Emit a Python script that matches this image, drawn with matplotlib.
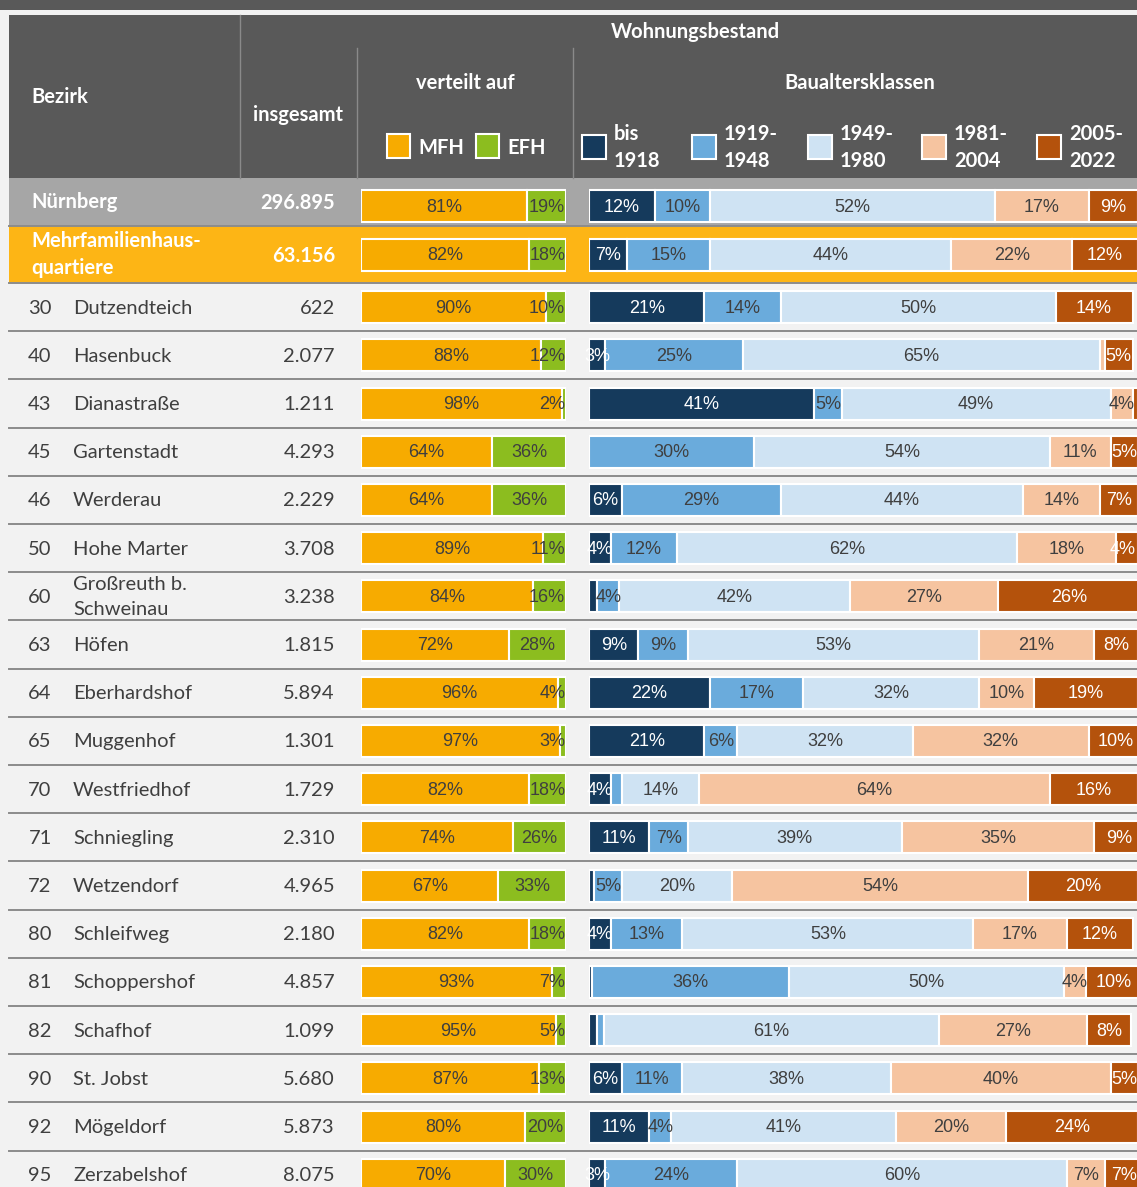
import matplotlib.pyplot as plt
from matplotlib.patches import Rectangle

# Wohnungsbestand nach Bezirk (Mehrfamilienhausquartiere)
bezirk_nr = ["", "", "30", "40", "43", "45", "46", "50", "60", "63", "64",
             "65", "70", "71", "72", "80", "81", "82", "90", "92", "95"]
bezirk_name = ["Nürnberg", "Mehrfamilienhaus-\nquartiere", "Dutzendteich", "Hasenbuck",
               "Dianastraße", "Gartenstadt", "Werderau", "Hohe Marter",
               "Großreuth b.\nSchweinau", "Höfen", "Eberhardshof", "Muggenhof",
               "Westfriedhof", "Schniegling", "Wetzendorf", "Schleifweg",
               "Schoppershof", "Schafhof", "St. Jobst", "Mögeldorf", "Zerzabelshof"]
insgesamt = ["296.895", "63.156", "622", "2.077", "1.211", "4.293", "2.229", "3.708",
             "3.238", "1.815", "5.894", "1.301", "1.729", "2.310", "4.965", "2.180",
             "4.857", "1.099", "5.680", "5.873", "8.075"]

mfh = [81, 82, 90, 88, 98, 64, 64, 89, 84, 72, 96, 97, 82, 74, 67, 82, 93, 95, 87, 80, 70]
efh = [19, 18, 10, 12, 2, 36, 36, 11, 16, 28, 4, 3, 18, 26, 33, 18, 7, 5, 13, 20, 30]

bis_1918 = [12, 7, 21, 3, 41, 0, 6, 4, 1.5, 9, 22, 21, 4, 11, 1, 4, 0.5, 1.5, 6, 11, 3]
bj_1919_1948 = [10, 15, 14, 25, 5, 30, 29, 12, 4, 9, 17, 6, 2, 7, 5, 13, 36, 1.2, 11, 4, 24]
bj_1949_1980 = [52, 44, 50, 65, 49, 54, 44, 62, 42, 53, 32, 32, 14, 39, 20, 53, 50, 61, 38, 41, 60]
bj_1981_2004 = [17, 22, 0, 1, 4, 11, 14, 18, 27, 21, 10, 32, 64, 35, 54, 17, 4, 27, 40, 20, 7]
bj_2005_2022 = [9, 12, 14, 5, 1, 5, 7, 4, 26, 8, 19, 10, 16, 9, 20, 12, 10, 8, 5, 24, 7]

klassen_labels = [("bis", "1918"), ("1919-", "1948"), ("1949-", "1980"),
                  ("1981-", "2004"), ("2005-", "2022")]

# colours
HEAD = "#595959"
BG = "#f2f2f2"
GREY_ROW = "#a6a6a6"
ORANGE_ROW = "#fdb515"
LINE = "#8c8c8c"
TXT = "#3f3f3f"
C_MFH = "#f7ab00"
C_EFH = "#8cbd1f"
C_KL = ["#153a5c", "#6aabdc", "#cfe3f3", "#f6c4a0", "#b4520c"]
TXT_KL = ["white", TXT, TXT, TXT, "white"]

W, H = 1137, 1187
TABLE_FONT = ["Lato", "DejaVu Sans"]
BAR_FONT = ["Liberation Sans", "DejaVu Sans"]
FS = 14.5

fig = plt.figure(figsize=(W / 100, H / 100), dpi=100, facecolor=BG)
ax = fig.add_axes([0, 0, 1, 1])
ax.set_xlim(0, W)
ax.set_ylim(H, 0)
ax.axis("off")

# row geometry
row_top = [178, 226] + [283 + 48.2 * i for i in range(len(bezirk_nr) - 2)]
row_bot = [226, 283] + [283 + 48.2 * (i + 1) for i in range(len(bezirk_nr) - 2)]
row_mid = [(a + b) / 2 for a, b in zip(row_top, row_bot)]
bar_mid = [row_mid[0] + 4] + row_mid[1:]

# header block
ax.add_patch(Rectangle((0, 0), W, 10, color=HEAD, lw=0))
ax.add_patch(Rectangle((9, 15), W - 9, 163, color=HEAD, lw=0))
ax.plot([240, 240], [15, 178], color="#8a8a8a", lw=1)
ax.plot([357, 357], [48, 178], color="#8a8a8a", lw=1)
ax.plot([573, 573], [48, 178], color="#8a8a8a", lw=1)

hd = dict(color="white", fontweight="bold", fontsize=FS, family=TABLE_FONT)
ax.text(31, 97, "Bezirk", ha="left", va="center", **hd)
ax.text(298, 115, "insgesamt", ha="center", va="center", **hd)
ax.text(465, 83, "verteilt auf", ha="center", va="center", **hd)
ax.text(695, 32, "Wohnungsbestand", ha="center", va="center", **hd)
ax.text(860, 83, "Baualtersklassen", ha="center", va="center", **hd)

# legends in header
for x, col, lab in [(387, C_MFH, "MFH"), (476, C_EFH, "EFH")]:
    ax.add_patch(Rectangle((x, 134), 23, 24, facecolor=col, edgecolor="white", lw=1.5))
    ax.text(x + 31, 148, lab, ha="left", va="center", **hd)
for x, col, (l1, l2) in zip([582, 692, 808, 922, 1037], C_KL, klassen_labels):
    ax.add_patch(Rectangle((x, 135), 24, 24, facecolor=col, edgecolor="white", lw=1.5))
    ax.text(x + 32, 134, l1, ha="left", va="center", **hd)
    ax.text(x + 32, 161, l2, ha="left", va="center", **hd)

# row backgrounds, separators and text
for i, (top, bot, mid) in enumerate(zip(row_top, row_bot, row_mid)):
    if i == 0:
        face, tcol, weight = GREY_ROW, "white", "bold"
    elif i == 1:
        face, tcol, weight = ORANGE_ROW, "white", "bold"
    else:
        face, tcol, weight = BG, TXT, "normal"
    ax.add_patch(Rectangle((9, top), W - 9, bot - top, color=face, lw=0))
    ax.plot([9, W], [bot, bot], color=LINE, lw=1.4)
    if bezirk_nr[i]:
        ax.text(40, mid + 1, bezirk_nr[i], ha="center", va="center",
                color=tcol, fontsize=FS, family=TABLE_FONT)
        ax.text(73, mid + 1, bezirk_name[i], ha="left", va="center", color=tcol,
                fontsize=FS, family=TABLE_FONT, linespacing=1.55)
    else:
        ax.text(31, mid, bezirk_name[i], ha="left", va="center", color=tcol,
                fontsize=FS, fontweight=weight, family=TABLE_FONT, linespacing=1.45)
    ax.text(335, mid + 1, insgesamt[i], ha="right", va="center", color=tcol,
            fontsize=FS, fontweight=weight, family=TABLE_FONT)


def bar_axes(x0, x1):
    a = fig.add_axes([x0 / W, 0, (x1 - x0) / W, 1])
    a.set_xlim(0, 100)
    a.set_ylim(H, 0)
    a.axis("off")
    a.patch.set_visible(False)
    return a


def put_label(left, val, px_per_unit, min_val):
    # centred on its segment, but kept inside the right end of the bar
    if val < min_val:
        return None
    lab = f"{round(val)}%"
    half = len(lab) * 6.5 / px_per_unit
    x, ha = left + val / 2, "center"
    if x + half > 100:
        x, ha = 99.6, "right"
    return x, ha, lab


ax_mfh = bar_axes(361, 566)
ax_kl = bar_axes(589, 1138)
bar_h = 32

segs = [(mfh, C_MFH, TXT), (efh, C_EFH, TXT)]
for i, mid in enumerate(bar_mid):
    left = 0
    for vals, col, tc in segs:
        v = vals[i]
        ax_mfh.barh(mid, v, left=left, height=bar_h, color=col, edgecolor="white", lw=1.5)
        res = put_label(left, v, 2.05, 0)
        if res:
            x, ha, lab = res
            ax_mfh.text(x, mid + 1, lab, ha=ha, va="center", color=tc,
                        fontsize=13, family=BAR_FONT)
        left += v

klassen = [bis_1918, bj_1919_1948, bj_1949_1980, bj_1981_2004, bj_2005_2022]
for i, mid in enumerate(bar_mid):
    left = 0
    for vals, col, tc in zip(klassen, C_KL, TXT_KL):
        v = vals[i]
        if v > 0:
            ax_kl.barh(mid, v, left=left, height=bar_h, color=col,
                       edgecolor="white", lw=1.5)
        res = put_label(left, v, 5.49, 2.5)
        if res:
            x, ha, lab = res
            ax_kl.text(x, mid + 1, lab, ha=ha, va="center", color=tc,
                       fontsize=13, family=BAR_FONT)
        left += v

fig.savefig("out.png", dpi=100, facecolor=BG)
